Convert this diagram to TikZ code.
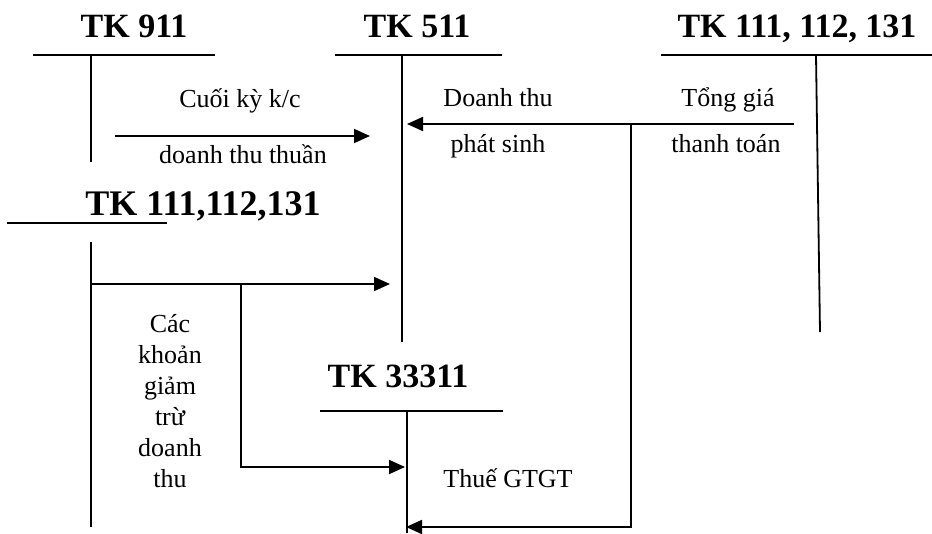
\documentclass[tikz,border=0pt]{standalone}
\usepackage{fontspec}
\setmainfont{Liberation Serif}
\usetikzlibrary{arrows.meta}
\begin{document}
\begin{tikzpicture}[x=1pt,y=-1pt,
  ln/.style={line width=1.8pt},
  arr/.style={line width=1.8pt,-{Triangle[length=16pt,width=14pt]}},
  ttl/.style={inner sep=0pt,anchor=base,font=\fontsize{34}{36}\selectfont\bfseries},
  lbl/.style={inner sep=0pt,anchor=base,font=\fontsize{26}{28}\selectfont}]
\useasboundingbox (0,0) rectangle (932,533);
% titles
\node[ttl] (t911) at (134,37) {TK 911};
\node[ttl] (t511) at (417,37) {TK 511};
\node[ttl] (tR) at (797,37) {TK 111, 112, 131};
\node[ttl,font=\fontsize{36}{38}\selectfont\bfseries] (tL) at (203,215) {TK 111,112,131};
\node[ttl] (t333) at (398,387) {TK 33311};
% T-account coordinates
\coordinate (a911l) at (33,55);  \coordinate (a911r) at (215,55);
\coordinate (a911t) at (91,55);  \coordinate (a911b) at (91,162);
\coordinate (a511l) at (335,55); \coordinate (a511r) at (502,55);
\coordinate (a511t) at (402,55); \coordinate (a511b) at (402,342);
\coordinate (aRl) at (661,55);   \coordinate (aRr) at (932,55);
\coordinate (aRt) at (816,55);   \coordinate (aRb) at (820,332);
\coordinate (aLl) at (7,223);    \coordinate (aLr) at (167,223);
\coordinate (aLt) at (91,242);   \coordinate (aLb) at (91,527);
\coordinate (a333l) at (320,411); \coordinate (a333r) at (503,411);
\coordinate (a333t) at (407,411); \coordinate (a333b) at (407,533);
\draw[ln] (a911l) -- (a911r) (a911t) -- (a911b);
\draw[ln] (a511l) -- (a511r) (a511t) -- (a511b);
\draw[ln] (aRl) -- (aRr) (aRt) -- (aRb);
\draw[ln] (aLl) -- (aLr) (aLt) -- (aLb);
\draw[ln] (a333l) -- (a333r) (a333t) -- (a333b);
% arrows
\coordinate (k1s) at (115,136); \coordinate (k1e) at (370,136);
\draw[arr] (k1s) -- (k1e);
\coordinate (k2s) at (794,124); \coordinate (k2e) at (407,124);
\draw[arr] (k2s) -- (k2e);
\coordinate (k2b) at (631,124); \coordinate (k2c) at (631,527); \coordinate (k2d) at (406,527);
\draw[arr] (k2b) -- (k2c) -- (k2d);
\coordinate (k3s) at (91,284); \coordinate (k3e) at (390,284);
\draw[arr] (k3s) -- (k3e);
\coordinate (k4b) at (241,284); \coordinate (k4c) at (241,467); \coordinate (k4d) at (405,467);
\draw[arr] (k4b) -- (k4c) -- (k4d);
% labels
\node[lbl] (l1) at (240,107) {Cuối kỳ k/c};
\node[lbl] (l2) at (243,163) {doanh thu thuần};
\node[lbl] (l3) at (498,106) {Doanh thu};
\node[lbl] (l4) at (498,152) {phát sinh};
\node[lbl] (l5) at (728,106) {Tổng giá};
\node[lbl] (l6) at (726,152) {thanh toán};
\node[inner sep=0pt,align=center,font=\fontsize{26}{31}\selectfont] (l7) at (170,401) {Các\\khoản\\giảm\\trừ\\doanh\\thu};
\node[lbl] (l8) at (508,487) {Thuế GTGT};
\end{tikzpicture}
\end{document}
